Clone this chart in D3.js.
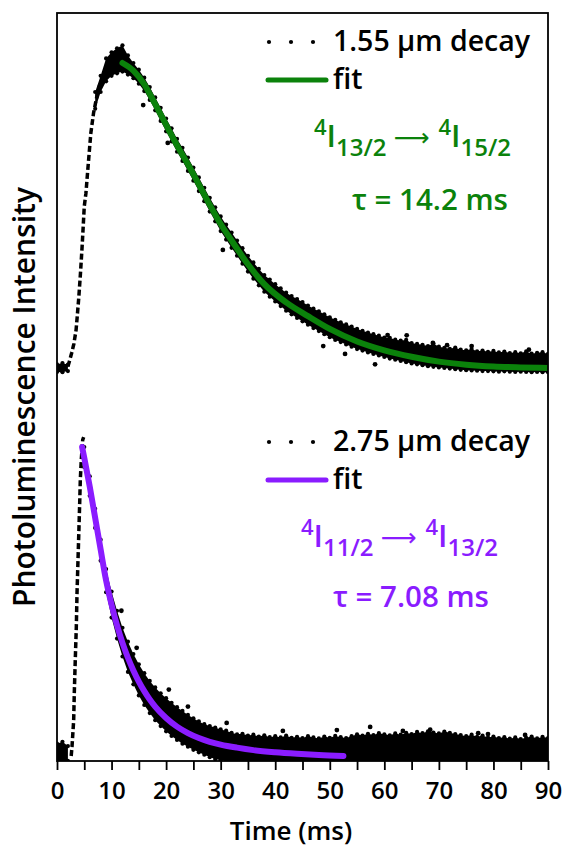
<!DOCTYPE html>
<html>
<head>
<meta charset="utf-8">
<script src="https://cdn.jsdelivr.net/npm/d3@7/dist/d3.min.js"></script>
<style>
  body { margin: 0; background: #fff; }
  svg text { font-family: "Open Sans", sans-serif; font-weight: 600; }
</style>
</head>
<body>
<div id="chart"></div>
<script>
// x ticks
var tickValues = [0, 5, 10, 15, 20, 25, 30, 35, 40, 45, 50, 55, 60, 65, 70, 75, 80, 85, 90];

// band sample times (ms), one every 1 ms
var bandTime = d3.range(0, 91);

// 1.55 um decay, upper / lower edge of the noisy data band
var hi155 = [0.012, 0.016, 0.011, null, null, null, null, 0.905, 0.958,
  1.015, 1.035, 1.048, 1.058, 1.025, 1.000, 0.978, 0.952, 0.921, 0.887, 0.853,
  0.818, 0.786, 0.751, 0.722, 0.690, 0.657, 0.625, 0.591, 0.558, 0.527,
  0.497, 0.470, 0.444, 0.418, 0.393, 0.368, 0.346, 0.325, 0.305, 0.290,
  0.275, 0.261, 0.247, 0.236, 0.226, 0.216, 0.205, 0.195, 0.186, 0.176,
  0.166, 0.158, 0.150, 0.143, 0.136, 0.128, 0.122, 0.116, 0.111, 0.106,
  0.100, 0.099, 0.093, 0.090, 0.092, 0.082, 0.079, 0.076, 0.072, 0.080,
  0.070, 0.066, 0.063, 0.067, 0.060, 0.058, 0.062, 0.055, 0.057, 0.053,
  0.056, 0.051, 0.054, 0.049, 0.052, 0.048, 0.055, 0.047, 0.050, 0.052, 0.046];
var lo155 = [-0.013, -0.014, -0.010, null, null, null, null, 0.850, 0.905,
  0.940, 0.958, 0.966, 0.972, 0.962, 0.950, 0.932, 0.908, 0.879, 0.845, 0.810,
  0.776, 0.743, 0.709, 0.679, 0.646, 0.614, 0.580, 0.547, 0.513, 0.481,
  0.449, 0.421, 0.394, 0.368, 0.342, 0.316, 0.293, 0.271, 0.250, 0.234,
  0.218, 0.203, 0.188, 0.176, 0.164, 0.153, 0.142, 0.131, 0.121, 0.111,
  0.101, 0.092, 0.085, 0.077, 0.070, 0.062, 0.057, 0.051, 0.046, 0.041,
  0.036, 0.031, 0.027, 0.023, 0.019, 0.015, 0.012, 0.009, 0.006, 0.004,
  0.002, 0.000, -0.002, -0.004, -0.006, -0.007, -0.008, -0.009, -0.010, -0.010,
  -0.011, -0.012, -0.011, -0.012, -0.013, -0.012, -0.013, -0.014, -0.013, -0.014, -0.014];

// 2.75 um decay band
var hi275 = [0.040, 0.046, 0.032, null, null,
  1.000, 0.905, 0.800, 0.700, 0.605, 0.532, 0.470, 0.415, 0.370, 0.330,
  0.297, 0.268, 0.243, 0.222, 0.203, 0.187, 0.172, 0.158, 0.146, 0.133,
  0.122, 0.112, 0.103, 0.097, 0.092, 0.086, 0.082, 0.075, 0.070, 0.072,
  0.066, 0.069, 0.063, 0.067, 0.061, 0.064, 0.060, 0.066, 0.059, 0.062,
  0.058, 0.064, 0.060, 0.057, 0.063, 0.059, 0.065, 0.061, 0.058, 0.064,
  0.070, 0.066, 0.072, 0.068, 0.074, 0.070, 0.067, 0.073, 0.069, 0.075,
  0.071, 0.078, 0.074, 0.080, 0.076, 0.073, 0.079, 0.075, 0.071, 0.068,
  0.064, 0.069, 0.062, 0.066, 0.060, 0.063, 0.058, 0.061, 0.056, 0.060,
  0.055, 0.059, 0.063, 0.057, 0.062, 0.058];
var lo275 = [-0.016, -0.016, -0.016, null, null,
  0.935, 0.842, 0.738, 0.632, 0.530, 0.448, 0.380, 0.322, 0.272, 0.232,
  0.196, 0.165, 0.139, 0.116, 0.097, 0.080, 0.065, 0.052, 0.040, 0.030,
  0.020, 0.012, 0.004, -0.004, -0.010, -0.014, -0.016, -0.016, -0.016, -0.016,
  -0.016, -0.016, -0.016, -0.016, -0.016, -0.016, -0.016, -0.016, -0.016, -0.016,
  -0.016, -0.016, -0.016, -0.016, -0.016, -0.016, -0.016, -0.016, -0.016, -0.016,
  -0.016, -0.016, -0.016, -0.016, -0.016, -0.016, -0.016, -0.016, -0.016, -0.016,
  -0.016, -0.016, -0.016, -0.016, -0.016, -0.016, -0.016, -0.016, -0.016, -0.016,
  -0.016, -0.016, -0.016, -0.016, -0.016, -0.016, -0.016, -0.016, -0.016, -0.016,
  -0.016, -0.016, -0.016, -0.016, -0.016, -0.016];

// rising edge of each decay
var riseTime155 = [2.0, 2.4, 2.7, 3.1, 3.5, 3.7, 4.0, 4.3, 4.6, 4.8, 5.0, 5.3, 5.6, 5.9, 6.2, 6.7, 7.3, 7.9];
var rise155 = [0.005, 0.03, 0.05, 0.08, 0.125, 0.167, 0.233, 0.31, 0.397, 0.463, 0.53, 0.573, 0.64, 0.705, 0.77, 0.836, 0.89, 0.934];
var riseTime275 = [2.6, 2.75, 3.06, 3.17, 3.35, 3.54, 3.67, 3.85, 4.03, 4.16, 4.27, 4.45, 4.71, 4.89];
var rise275 = [0.0, 0.03, 0.117, 0.204, 0.311, 0.417, 0.527, 0.634, 0.741, 0.819, 0.893, 0.958, 1.023, 1.032];

// stray points outside the band
var strayTime155 = [15.8, 20.3, 30.4, 48.8, 52.8, 58.3, 60.6, 64.1, 68.9, 71.5, 76.0, 86.5];
var stray155 = [0.862, 0.738, 0.387, 0.072, 0.046, 0.012, 0.108, 0.107, 0.082, 0.075, 0.072, 0.060];
var strayTime275 = [11.8, 14.6, 20.5, 24.0, 31.1, 41.4, 51.3, 57.4, 63.4, 68.4, 77.2, 79.0, 85.8];
var stray275 = [0.470, 0.350, 0.215, 0.160, 0.107, 0.081, 0.084, 0.094, 0.081, 0.085, 0.074, 0.071, 0.068];

// fits
var fitTime155 = [12, 14, 16, 18, 20, 22, 24, 26, 28, 30, 32, 35, 38, 42, 46, 50, 55, 60, 65, 70, 75, 80, 85, 90];
var fit155 = [1.00, 0.975, 0.93, 0.865, 0.797, 0.73, 0.668, 0.602, 0.535, 0.472, 0.418, 0.340, 0.275, 0.215, 0.170, 0.128, 0.087, 0.058, 0.037, 0.021, 0.011, 0.005, 0.002, 0.0];
var fitTime275 = [4.6, 5, 6, 7, 8, 9, 10, 11, 12, 13, 14, 15, 16, 17, 18, 20, 22, 24, 26, 28, 30, 33, 36, 40, 44, 48, 52.5];
var fit275 = [1.0, 0.965, 0.872, 0.77, 0.668, 0.568, 0.49, 0.423, 0.366, 0.318, 0.277, 0.241, 0.21, 0.183, 0.16, 0.123, 0.095, 0.074, 0.058, 0.046, 0.037, 0.027, 0.019, 0.012, 0.007, 0.003, 0.0];

var GREEN = "#0b820b";
var PURPLE = "#8a1cff";

var width = 565, height = 847;
var plot = { left: 57, right: 548, top: 13, bottom: 761 };

var svg = d3.select("#chart").append("svg")
    .attr("width", width)
    .attr("height", height);

svg.append("defs").append("clipPath").attr("id", "clip")
  .append("rect")
    .attr("x", plot.left).attr("y", plot.top)
    .attr("width", plot.right - plot.left)
    .attr("height", plot.bottom - plot.top);

var x = d3.scaleLinear().domain([0, 90]).range([plot.left, plot.right]);
// one intensity scale per decay, stacked in the same frame
var yTop = d3.scaleLinear().domain([0, 1]).range([368, 63]);
var yBot = d3.scaleLinear().domain([0, 1]).range([756, 447]);

var g = svg.append("g").attr("clip-path", "url(#clip)");

function drawDecay(y, hi, lo, riseT, rise, strayT, stray, fitT, fit, color){
    var band = bandTime.map(function(t, i){ return { t: t, hi: hi[i], lo: lo[i] }; });

    var area = d3.area()
        .defined(function(d){ return d.hi != null; })
        .x(function(d){ return x(d.t); })
        .y0(function(d){ return y(d.lo); })
        .y1(function(d){ return y(d.hi); });

    g.append("path")
        .datum(band)
        .attr("d", area)
        .attr("fill", "#000");

    //dots along the band edges
    var edge = band.filter(function(d){ return d.hi != null; });
    g.selectAll(null).data(edge).enter().append("circle")
        .attr("cx", function(d){ return x(d.t); })
        .attr("cy", function(d){ return y(d.hi); })
        .attr("r", 2.1);
    g.selectAll(null).data(edge).enter().append("circle")
        .attr("cx", function(d){ return x(d.t); })
        .attr("cy", function(d){ return y(d.lo); })
        .attr("r", 2.1);

    g.selectAll(null).data(strayT).enter().append("circle")
        .attr("cx", function(d){ return x(d); })
        .attr("cy", function(d, i){ return y(stray[i]); })
        .attr("r", 2.4);

    var riseLine = d3.line()
        .x(function(d, i){ return x(riseT[i]); })
        .y(function(d){ return y(d); });

    g.append("path")
        .datum(rise)
        .attr("d", riseLine)
        .attr("fill", "none")
        .attr("stroke", "#000")
        .attr("stroke-width", 3.5)
        .attr("stroke-dasharray", "6 3");

    var fitLine = d3.line()
        .curve(d3.curveMonotoneX)
        .x(function(d, i){ return x(fitT[i]); })
        .y(function(d){ return y(d); });

    g.append("path")
        .datum(fit)
        .attr("d", fitLine)
        .attr("fill", "none")
        .attr("stroke", color)
        .attr("stroke-width", 6)
        .attr("stroke-linecap", "round");
}

drawDecay(yTop, hi155, lo155, riseTime155, rise155, strayTime155, stray155, fitTime155, fit155, GREEN);
drawDecay(yBot, hi275, lo275, riseTime275, rise275, strayTime275, stray275, fitTime275, fit275, PURPLE);

//frame
svg.append("rect")
    .attr("x", plot.left).attr("y", plot.top)
    .attr("width", plot.right - plot.left)
    .attr("height", plot.bottom - plot.top)
    .attr("fill", "none")
    .attr("stroke", "#000")
    .attr("stroke-width", 1.8);

var xAxis = d3.axisBottom(x)
    .tickValues(tickValues)
    .tickSize(9)
    .tickSizeOuter(0)
    .tickPadding(12)
    .tickFormat(function(d){ return d % 10 === 0 ? d : ""; });

var ax = svg.append("g")
    .attr("transform", "translate(0," + plot.bottom + ")")
    .call(xAxis);
ax.select(".domain").remove();
ax.selectAll(".tick line").attr("stroke-width", 1.8);
ax.selectAll(".tick text")
    .attr("font-size", 24)
    .attr("fill", "#000")
    .style("font-family", "'Open Sans', sans-serif");

svg.append("text")
    .attr("x", 291).attr("y", 840)
    .attr("text-anchor", "middle")
    .attr("font-size", 26)
    .text("Time (ms)");

svg.append("text")
    .attr("transform", "translate(35,397) rotate(-90)")
    .attr("text-anchor", "middle")
    .attr("font-size", 30)
    .text("Photoluminescence Intensity");

//legend + labels
function legend(yDots, yLine, name, color){
    svg.selectAll(null).data([269, 291, 313]).enter().append("circle")
        .attr("cx", function(d){ return d; })
        .attr("cy", yDots)
        .attr("r", 2.1);
    svg.append("text")
        .attr("x", 333).attr("y", yDots + 9)
        .attr("font-size", 28.5)
        .text(name);
    svg.append("line")
        .attr("x1", 268).attr("x2", 326)
        .attr("y1", yLine).attr("y2", yLine)
        .attr("stroke", color)
        .attr("stroke-width", 5)
        .attr("stroke-linecap", "round");
    svg.append("text")
        .attr("x", 333).attr("y", yLine + 9)
        .attr("font-size", 28.5)
        .text("fit");
}

function transition(xs, y, lower, upper, color){
    var t = svg.append("text")
        .attr("x", xs).attr("y", y)
        .attr("font-size", 31)
        .attr("fill", color);
    t.append("tspan").attr("font-size", 22).attr("dy", -12).text("4");
    t.append("tspan").attr("dy", 12).text("I");
    t.append("tspan").attr("font-size", 24).attr("dy", 9).text(lower);
    t.append("tspan").attr("dy", -10).attr("dx", 7)
        .style("font-family", "'DejaVu Sans', sans-serif")
        .style("font-weight", 400)
        .style("font-size", "25px")
        .text("\u27f6");
    t.append("tspan").attr("font-size", 22).attr("dy", -11).attr("dx", 9).text("4");
    t.append("tspan").attr("dy", 12).text("I");
    t.append("tspan").attr("font-size", 24).attr("dy", 9).text(upper);
}

legend(42, 80, "1.55 \u00b5m decay", GREEN);
transition(314, 147, "13/2", "15/2", GREEN);
svg.append("text")
    .attr("x", 352).attr("y", 210)
    .attr("font-size", 29.5)
    .attr("fill", GREEN)
    .text("\u03c4 = 14.2 ms");

legend(442, 480, "2.75 \u00b5m decay", PURPLE);
transition(301, 547, "11/2", "13/2", PURPLE);
svg.append("text")
    .attr("x", 333).attr("y", 607)
    .attr("font-size", 29.5)
    .attr("fill", PURPLE)
    .text("\u03c4 = 7.08 ms");
</script>
</body>
</html>
